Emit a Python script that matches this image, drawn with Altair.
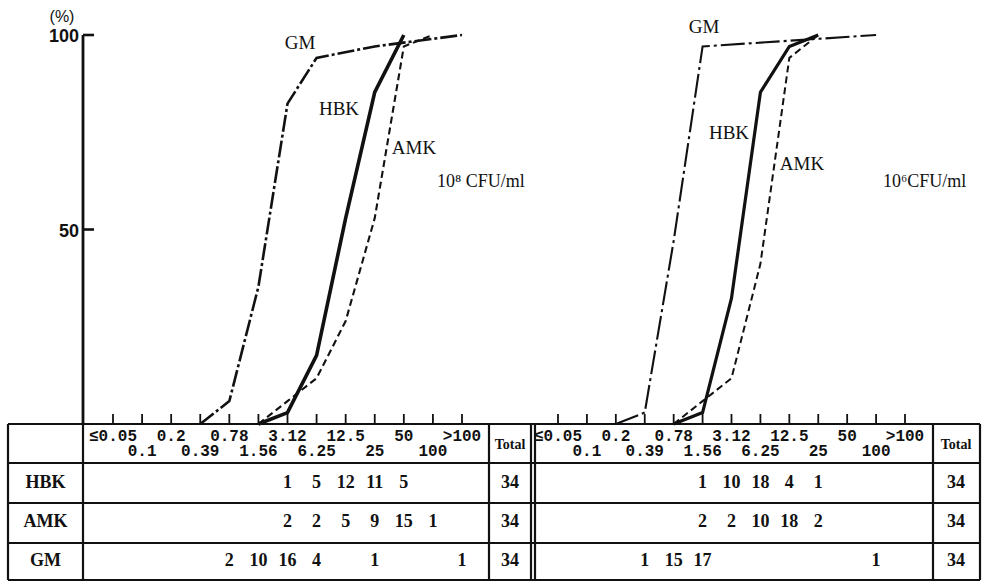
import altair as alt
import pandas as pd

# MIC classes (µg/ml) shown along the bottom of each panel
mic_labels = ["≤0.05", "0.1", "0.2", "0.39", "0.78", "1.56", "3.12",
              "6.25", "12.5", "25", "50", "100", ">100"]
drugs = ["HBK", "AMK", "GM"]

# number of strains at each MIC, inoculum 10^8 CFU/ml
hbk_1e8 = [0, 0, 0, 0, 0, 0, 1, 5, 12, 11, 5, 0, 0]
amk_1e8 = [0, 0, 0, 0, 0, 0, 2, 2, 5, 9, 15, 1, 0]
gm_1e8 = [0, 0, 0, 0, 2, 10, 16, 4, 0, 1, 0, 0, 1]

# number of strains at each MIC, inoculum 10^6 CFU/ml
hbk_1e6 = [0, 0, 0, 0, 0, 1, 10, 18, 4, 1, 0, 0, 0]
amk_1e6 = [0, 0, 0, 0, 0, 2, 2, 10, 18, 2, 0, 0, 0]
gm_1e6 = [0, 0, 0, 1, 15, 17, 0, 0, 0, 0, 0, 1, 0]

inoculum_labels = ["10⁸ CFU/ml", "10⁶CFU/ml"]
percent_ticks = [50, 100]

# ---- layout (pixels) ----
W, H = 984, 582
PANEL_X = [[113, 462], [558, 905]]      # first .. last MIC tick of each panel
Y_RANGE = [424, 35]                     # 0 % .. 100 %
ROW_SPAN = [463, 580]                   # table body
COL_EDGES = [8, 83, 489, 531, 535, 933, 980]
ROW_EDGES = [424, 463, 503, 543, 580]
TOTAL_X = [510, 956]
AXIS_X = 83
INK = "#111111"
SERIF = "Liberation Serif"
MONO = "Liberation Mono"
SANS_NARROW = "Liberation Sans Narrow, Liberation Sans"

panels = [
    {"HBK": hbk_1e8, "AMK": amk_1e8, "GM": gm_1e8},
    {"HBK": hbk_1e6, "AMK": amk_1e6, "GM": gm_1e6},
]

line_style = [
    {"HBK": dict(strokeWidth=3.6), "AMK": dict(strokeWidth=2.1, strokeDash=[7, 4]),
     "GM": dict(strokeWidth=2.6, strokeDash=[17, 3, 3, 3])},
    {"HBK": dict(strokeWidth=3.2), "AMK": dict(strokeWidth=2.0, strokeDash=[7, 4]),
     "GM": dict(strokeWidth=2.1, strokeDash=[24, 4, 3, 4])},
]

curve_label_pos = [
    {"GM": (300, 43), "HBK": (339, 109), "AMK": (414, 148)},
    {"GM": (704, 27), "HBK": (729, 133), "AMK": (802, 164)},
]
inoculum_pos = [(437, 182), (883, 182)]


def cumulative(counts):
    """Cumulative % of strains inhibited, from the class before the first
    non-empty one through every non-empty class."""
    total = sum(counts)
    first = next(i for i, c in enumerate(counts) if c)
    rows = [{"mic": mic_labels[first - 1], "idx": first - 1, "pct": 0.0}]
    run = 0
    for i, c in enumerate(counts):
        run += c
        if c:
            rows.append({"mic": mic_labels[i], "idx": i, "pct": 100.0 * run / total})
    return pd.DataFrame(rows)


def x_scale(p):
    return alt.Scale(type="point", domain=mic_labels, range=PANEL_X[p], padding=0)


pct_scale = alt.Scale(domain=[0, 100], range=Y_RANGE, nice=False, zero=False)
row_scale = alt.Scale(type="point", domain=drugs, range=ROW_SPAN, padding=0.5)

layers = []

# ---- table grid ----
vlines = pd.DataFrame({"x": COL_EDGES, "y": ROW_EDGES[0], "y2": ROW_EDGES[-1]})
hlines = pd.DataFrame({"y": ROW_EDGES, "x": COL_EDGES[0], "x2": COL_EDGES[-1]})
layers.append(alt.Chart(vlines).mark_rule(color=INK, strokeWidth=2.2).encode(
    x=alt.X("x:Q", scale=None, axis=None),
    y=alt.Y("y:Q", scale=None, axis=None), y2="y2:Q"))
layers.append(alt.Chart(hlines).mark_rule(color=INK, strokeWidth=2.2).encode(
    y=alt.Y("y:Q", scale=None, axis=None),
    x=alt.X("x:Q", scale=None, axis=None), x2="x2:Q"))

# ---- percent axis (left panel only) ----
pct_df = pd.DataFrame({"pct": percent_ticks})
layers.append(alt.Chart(pd.DataFrame({"a": [0], "b": [100]})).mark_rule(
    color=INK, strokeWidth=2.8).encode(
    x=alt.value(AXIS_X),
    y=alt.Y("a:Q", scale=pct_scale, axis=None), y2="b:Q"))
layers.append(alt.Chart(pct_df).mark_rule(color=INK, strokeWidth=2.6).encode(
    x=alt.value(AXIS_X), x2=alt.value(AXIS_X + 11),
    y=alt.Y("pct:Q", scale=pct_scale, axis=None)))
layers.append(alt.Chart(pct_df).mark_text(
    align="right", baseline="middle", font=SANS_NARROW, fontWeight="bold",
    fontSize=18, color=INK, dy=2).encode(
    x=alt.value(AXIS_X - 4),
    y=alt.Y("pct:Q", scale=pct_scale, axis=None),
    text="pct:Q"))
layers.append(alt.Chart(pd.DataFrame({"t": ["(%)"]})).mark_text(
    align="center", baseline="middle", font="Liberation Sans", fontSize=16,
    color=INK).encode(x=alt.value(62), y=alt.value(17), text="t:N"))

for p in range(2):
    xs = x_scale(p)
    mic_df = pd.DataFrame({"mic": mic_labels, "idx": range(len(mic_labels))})

    # MIC ticks standing on the table
    layers.append(alt.Chart(mic_df).mark_rule(color=INK, strokeWidth=1.8).encode(
        x=alt.X("mic:N", scale=xs, axis=None),
        y=alt.value(414), y2=alt.value(ROW_EDGES[0])))

    # MIC labels in the table header, staggered on two lines
    for parity, ypos in ((0, 436), (1, 451)):
        sub = mic_df[mic_df["idx"] % 2 == parity]
        layers.append(alt.Chart(sub).mark_text(
            align="center", baseline="middle", font=MONO, fontWeight="bold",
            fontSize=16, color=INK).encode(
            x=alt.X("mic:N", scale=xs, axis=None),
            y=alt.value(ypos), text="mic:N"))

    # cumulative curves
    for d in drugs:
        cdf = cumulative(panels[p][d])
        layers.append(alt.Chart(cdf).mark_line(
            color=INK, strokeJoin="miter", **line_style[p][d]).encode(
            x=alt.X("mic:N", scale=xs, axis=None),
            y=alt.Y("pct:Q", scale=pct_scale, axis=None),
            order="idx:Q"))

    # curve names
    lab = pd.DataFrame([{"drug": d, "x": curve_label_pos[p][d][0],
                         "y": curve_label_pos[p][d][1]} for d in drugs])
    layers.append(alt.Chart(lab).mark_text(
        align="center", baseline="middle", font=SERIF, fontSize=19,
        color=INK).encode(
        x=alt.X("x:Q", scale=None, axis=None),
        y=alt.Y("y:Q", scale=None, axis=None), text="drug:N"))
    layers.append(alt.Chart(pd.DataFrame({"t": [inoculum_labels[p]]})).mark_text(
        align="left", baseline="middle", font=SERIF, fontSize=18,
        color=INK).encode(x=alt.value(inoculum_pos[p][0]),
                          y=alt.value(inoculum_pos[p][1]), text="t:N"))

    # strain counts in the table body
    counts = pd.DataFrame([{"drug": d, "mic": mic_labels[i], "n": c}
                           for d in drugs for i, c in enumerate(panels[p][d]) if c])
    layers.append(alt.Chart(counts).mark_text(
        align="center", baseline="middle", font=SERIF, fontWeight="bold",
        fontSize=18, color=INK).encode(
        x=alt.X("mic:N", scale=xs, axis=None),
        y=alt.Y("drug:N", scale=row_scale, axis=None), text="n:Q"))

    # totals column
    totals = pd.DataFrame({"drug": drugs, "n": [sum(panels[p][d]) for d in drugs]})
    layers.append(alt.Chart(totals).mark_text(
        align="center", baseline="middle", font=SERIF, fontWeight="bold",
        fontSize=18, color=INK).encode(
        x=alt.value(TOTAL_X[p]),
        y=alt.Y("drug:N", scale=row_scale, axis=None), text="n:Q"))
    layers.append(alt.Chart(pd.DataFrame({"t": ["Total"]})).mark_text(
        align="center", baseline="middle", font=SERIF, fontWeight="bold",
        fontSize=14, color=INK).encode(
        x=alt.value(TOTAL_X[p]), y=alt.value(445), text="t:N"))

# row names
layers.append(alt.Chart(pd.DataFrame({"drug": drugs})).mark_text(
    align="center", baseline="middle", font=SERIF, fontWeight="bold",
    fontSize=18, color=INK).encode(
    x=alt.value((COL_EDGES[0] + COL_EDGES[1]) / 2),
    y=alt.Y("drug:N", scale=row_scale, axis=None), text="drug:N"))

chart = (
    alt.layer(*layers)
    .resolve_scale(x="independent", y="independent")
    .properties(width=W, height=H, background="white", padding=0,
                autosize=alt.AutoSizeParams(type="none"))
    .configure_view(stroke=None)
)

chart.save("out.html", embed_options={"renderer": "svg", "actions": False})
